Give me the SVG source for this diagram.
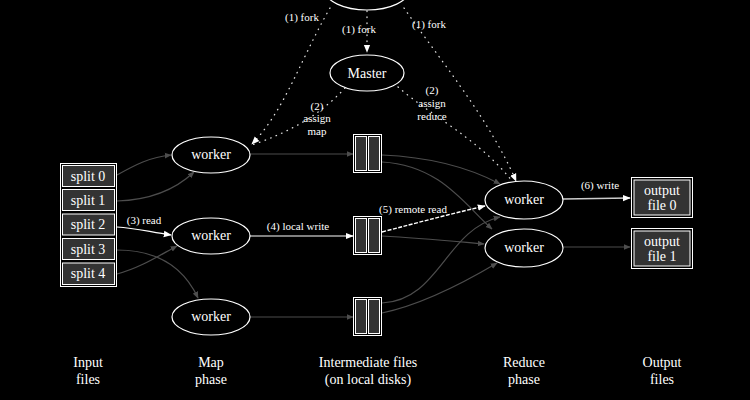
<svg xmlns="http://www.w3.org/2000/svg" width="750" height="400" viewBox="0 0 750 400">
<style>
text{font-family:"Liberation Serif","Times New Roman",serif;fill:#fff;text-anchor:middle}
.n{font-size:14px}
.l{font-size:11px}
.ell{fill:#000;stroke:#fff;stroke-width:1.2}
.box{fill:#000;stroke:#fff;stroke-width:1}
.cell{fill:#333;stroke:#fff;stroke-width:1}
.g{fill:none;stroke:#4d4d4d;stroke-width:1.2}
.w{fill:none;stroke:#fff;stroke-width:1.2}
.wd{fill:none;stroke:#fff;stroke-width:1.4;stroke-dasharray:4 1.5}
.d{fill:none;stroke:#ddd;stroke-width:1.3;stroke-dasharray:0.5 5.5;stroke-linecap:round}
</style>
<defs>
<marker id="ag" viewBox="0 0 10 10" refX="9" refY="5" markerWidth="7" markerHeight="7" markerUnits="userSpaceOnUse" orient="auto"><path d="M0,1 L10,5 L0,9 z" fill="#4d4d4d"/></marker>
<marker id="aw" viewBox="0 0 10 10" refX="9" refY="5" markerWidth="8" markerHeight="8" markerUnits="userSpaceOnUse" orient="auto"><path d="M0,1 L10,5 L0,9 z" fill="#fff"/></marker>
</defs>
<rect width="750" height="400" fill="#000"/>

<g id="connectors">
<path class="d" d="M367,11 L367,52" marker-end="url(#aw)"/>
<path class="d" d="M330,8 C300,60 285,110 252,144" marker-end="url(#aw)"/>
<path class="d" d="M404,8 C440,60 490,120 516,181" marker-end="url(#aw)"/>
<path class="d" d="M345,88 C320,115 290,132 252,145"/>
<path class="d" d="M398,87 C430,115 480,140 512,181"/>
<path class="g" d="M117,175 C135,165 150,157 171,155" marker-end="url(#ag)"/>
<path class="g" d="M117,201 C150,200 175,190 194,172" marker-end="url(#ag)"/>
<path class="w" d="M117,227 C135,228 150,232 171,235" marker-end="url(#aw)"/>
<path class="g" d="M117,250 C160,250 185,270 198,298" marker-end="url(#ag)"/>
<path class="g" d="M117,274 C140,268 160,255 177,246" marker-end="url(#ag)"/>
<path class="g" d="M250,154 L353,154" marker-end="url(#ag)"/>
<path class="w" d="M250,236 L353,236" marker-end="url(#aw)"/>
<path class="g" d="M250,317 L353,317" marker-end="url(#ag)"/>
<path class="g" d="M382,155 C430,157 470,168 500,184" marker-end="url(#ag)"/>
<path class="g" d="M382,162 C440,165 465,205 492,229" marker-end="url(#ag)"/>
<path class="wd" d="M382,232 C420,222 450,214 485,206" marker-end="url(#aw)"/>
<path class="g" d="M382,236 C420,238 450,241 484,244" marker-end="url(#ag)"/>
<path class="g" d="M382,303 C440,300 445,230 500,217" marker-end="url(#ag)"/>
<path class="g" d="M382,313 C420,305 460,285 497,263" marker-end="url(#ag)"/>
<path fill="none" stroke="#ccc" stroke-width="1.3" d="M563,199 L630,198" marker-end="url(#aw)"/>
<path class="g" d="M563,247 L630,247" marker-end="url(#ag)"/>
<text class="l" x="302" y="21">(1) fork</text>
<text class="l" x="359" y="33">(1) fork</text>
<text class="l" x="429" y="28">(1) fork</text>
<text class="l" x="317" y="110">(2)</text>
<text class="l" x="317" y="122">assign</text>
<text class="l" x="317" y="135">map</text>
<text class="l" x="432" y="94">(2)</text>
<text class="l" x="432" y="107">assign</text>
<text class="l" x="432" y="120">reduce</text>
<text class="l" x="144" y="224">(3) read</text>
<text class="l" x="298" y="230">(4) local write</text>
<text class="l" x="413" y="213">(5) remote read</text>
<text class="l" x="600" y="189">(6) write</text>
</g>

<g id="user-program"><ellipse class="ell" cx="367" cy="-10" rx="42" ry="20"/></g>
<g id="master"><ellipse class="ell" cx="367" cy="73" rx="37" ry="18"/><text class="n" x="367" y="78">Master</text></g>

<g id="splits">
<rect class="box" x="60.5" y="163.5" width="56" height="123"/>
<rect class="cell" x="62.5" y="165.5" width="52" height="21"/>
<rect class="cell" x="62.5" y="189.5" width="52" height="21"/>
<rect class="cell" x="62.5" y="214" width="52" height="21"/>
<rect class="cell" x="62.5" y="238.5" width="52" height="21"/>
<rect class="cell" x="62.5" y="263" width="52" height="21.5"/>
<text class="n" x="88" y="181">split 0</text>
<text class="n" x="88" y="205">split 1</text>
<text class="n" x="88" y="229">split 2</text>
<text class="n" x="88" y="254">split 3</text>
<text class="n" x="88" y="278">split 4</text>
</g>

<g id="map-worker-0"><ellipse class="ell" cx="211" cy="155" rx="39" ry="18"/><text class="n" x="211" y="159">worker</text></g>
<g id="map-worker-1"><ellipse class="ell" cx="211" cy="236" rx="39" ry="18"/><text class="n" x="211" y="240">worker</text></g>
<g id="map-worker-2"><ellipse class="ell" cx="211" cy="317" rx="39" ry="18"/><text class="n" x="211" y="321">worker</text></g>

<g id="intermediate-0"><rect class="box" x="353.5" y="134.5" width="28" height="38"/><rect class="cell" x="355.5" y="136.5" width="11" height="34"/><rect class="cell" x="368.5" y="136.5" width="11" height="34"/></g>
<g id="intermediate-1"><rect class="box" x="353.5" y="216.5" width="28" height="38"/><rect class="cell" x="355.5" y="218.5" width="11" height="34"/><rect class="cell" x="368.5" y="218.5" width="11" height="34"/></g>
<g id="intermediate-2"><rect class="box" x="353.5" y="297.5" width="28" height="38"/><rect class="cell" x="355.5" y="299.5" width="11" height="34"/><rect class="cell" x="368.5" y="299.5" width="11" height="34"/></g>

<g id="reduce-worker-0"><ellipse class="ell" cx="524" cy="200" rx="39" ry="19"/><text class="n" x="524" y="204">worker</text></g>
<g id="reduce-worker-1"><ellipse class="ell" cx="524" cy="248" rx="39" ry="19"/><text class="n" x="524" y="252">worker</text></g>

<g id="output-0"><rect class="box" x="631.5" y="177.5" width="61" height="40"/><rect class="cell" x="634" y="180" width="56" height="35"/><text class="n" x="662" y="195">output</text><text class="n" x="662" y="210">file 0</text></g>
<g id="output-1"><rect class="box" x="631.5" y="228.5" width="61" height="40"/><rect class="cell" x="634" y="231" width="56" height="35"/><text class="n" x="662" y="246">output</text><text class="n" x="662" y="261">file 1</text></g>

<g id="phase-labels">
<text class="n" x="88" y="367">Input</text><text class="n" x="88" y="384">files</text>
<text class="n" x="211" y="367">Map</text><text class="n" x="211" y="384">phase</text>
<text class="n" x="368" y="367">Intermediate files</text><text class="n" x="368" y="384">(on local disks)</text>
<text class="n" x="524" y="367">Reduce</text><text class="n" x="524" y="384">phase</text>
<text class="n" x="662" y="367">Output</text><text class="n" x="662" y="384">files</text>
</g>
</svg>
